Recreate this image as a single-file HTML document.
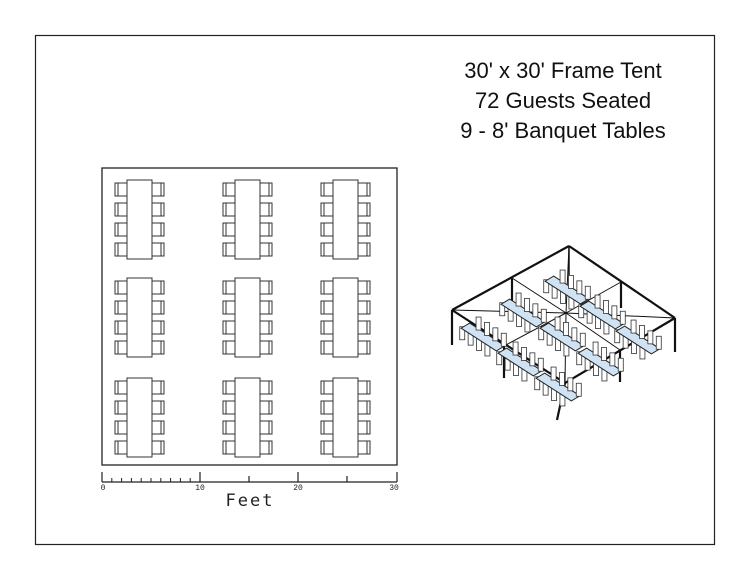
<!DOCTYPE html>
<html><head><meta charset="utf-8"><style>
html,body{margin:0;padding:0;background:#fff;width:750px;height:579px;overflow:hidden}
svg{display:block}
</style></head><body>
<svg id="s" width="750" height="579" viewBox="0 0 750 579" xmlns="http://www.w3.org/2000/svg" font-family="Liberation Sans, sans-serif">
<rect x="35.5" y="35.5" width="679" height="509" fill="#fff" stroke="#222" stroke-width="1.2"/>
<text x="563" y="78" font-size="22" text-anchor="middle" fill="#111">30' x 30' Frame Tent</text>
<text x="563" y="108" font-size="22" text-anchor="middle" fill="#111">72 Guests Seated</text>
<text x="563" y="138" font-size="22" text-anchor="middle" fill="#111">9 - 8' Banquet Tables</text>
<rect x="102" y="168" width="295" height="297" fill="none" stroke="#222" stroke-width="1.3"/>
<g id="tables" fill="#fff" stroke="#333" stroke-width="1"></g>
<g stroke="#222" stroke-width="1.2">
<line x1="102" y1="482" x2="397" y2="482"/>
<line x1="102" y1="472" x2="102" y2="482"/><line x1="200" y1="472" x2="200" y2="482"/>
<line x1="298" y1="472" x2="298" y2="482"/><line x1="397" y1="472" x2="397" y2="482"/>
<line x1="249" y1="476" x2="249" y2="482"/><line x1="347" y1="476" x2="347" y2="482"/>
</g>
<g id="ticks" stroke="#222" stroke-width="1"></g>
<g font-size="8" fill="#222" font-family="Liberation Mono, monospace" text-anchor="middle">
<text x="103" y="490">0</text><text x="200" y="490">10</text><text x="298" y="490">20</text><text x="394" y="490">30</text>
</g>
<text x="250" y="506" font-size="17" text-anchor="middle" fill="#222" letter-spacing="2" font-family="DejaVu Sans Mono, monospace">Feet</text>
<g id="iso"></g>
</svg>
<script>
var ns="http://www.w3.org/2000/svg";
function el(p,t,a){var e=document.createElementNS(ns,t);for(var k in a)e.setAttribute(k,a[k]);p.appendChild(e);return e;}
var g=document.getElementById('tables');
[127,235,333].forEach(function(x){[180,278,378].forEach(function(y){
 for(var i=0;i<4;i++){var cy=y+3+i*20;
  el(g,'rect',{x:x-12,y:cy,width:12,height:13});
  el(g,'line',{x1:x-9,y1:cy,x2:x-9,y2:cy+13});
  el(g,'rect',{x:x+25,y:cy,width:12,height:13});
  el(g,'line',{x1:x+34,y1:cy,x2:x+34,y2:cy+13});
 }
 el(g,'rect',{x:x,y:y,width:25,height:79});
});});
var tk=document.getElementById('ticks');
for(var i=1;i<10;i++){var x=102+i*9.8;el(tk,'line',{x1:x,y1:478,x2:x,y2:482});}
var iso=document.getElementById('iso');
var fr=el(iso,'g',{stroke:'#111','stroke-width':2.2,fill:'none'});
var L=[452,310],B=[569,246],R=[675,318],F=[565,383];
function ln(a,b,w){el(fr,'line',{x1:a[0],y1:a[1],x2:b[0],y2:b[1],'stroke-width':w||2.2});}
var c=[566,313];
[L,R,F,B,[512,278],[621,282],[504,346],[620,350]].forEach(function(p){ln(p,c,1);});
var ux=0.84,uy=0.54,vx=0.86,vy=-0.51;
[[567,290],[523,313],[602,315],[483,337],[562,337],[638,340],[520,362],[600,362],[558,387]].forEach(function(t){
 var l=21,w=5,cx=t[0],cy=t[1];
 var pts=[[cx-ux*l-vx*w,cy-uy*l-vy*w],[cx+ux*l-vx*w,cy+uy*l-vy*w],[cx+ux*l+vx*w,cy+uy*l+vy*w],[cx-ux*l+vx*w,cy-uy*l+vy*w]];
 for(var s=-1;s<=1;s+=2){for(var i=0;i<4;i++){
  var d=-15+i*10;
  var px=cx+ux*d+vx*w*1.9*s, py=cy+uy*d+vy*w*1.9*s;
  el(iso,'rect',{x:px-2.5,y:py-7,width:5,height:13,fill:'#fff',stroke:'#333','stroke-width':0.8});
 }
 if(s<0) el(iso,'polygon',{points:pts.map(function(p){return p.join(',')}).join(' '),fill:'#cfe3f5',stroke:'#222','stroke-width':1});
 }
});
ln(L,B);ln(B,R);ln(R,F);ln(F,L);
ln(L,[452,345]);ln(R,[675,352]);ln(F,[557,420]);ln(B,[569,290],1.5);
ln([512,278],[512,306]);ln([621,282],[621,308]);ln([504,346],[504,378]);ln([620,350],[620,382]);
</script>
</body></html>
